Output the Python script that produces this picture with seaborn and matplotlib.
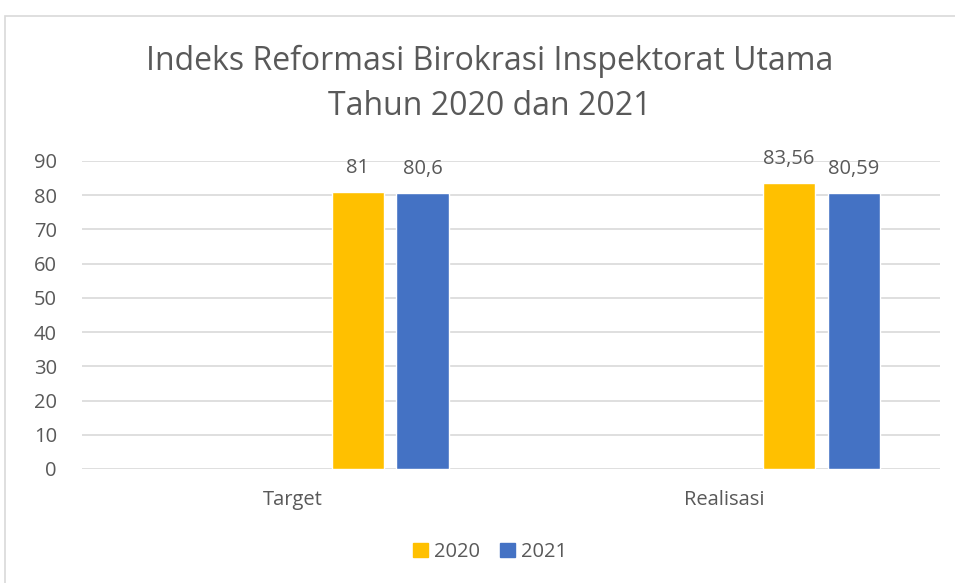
import pandas as pd
import matplotlib.pyplot as plt
import matplotlib.patches as mpatches
import seaborn as sns

# data
categories = ['Target', 'Realisasi']
years = ['2020', '2021']
values_2020 = [81, 83.56]
values_2021 = [80.6, 80.59]
labels_2020 = ['81', '83,56']
labels_2021 = ['80,6', '80,59']
yticks = [0, 10, 20, 30, 40, 50, 60, 70, 80, 90]

colors = {'2020': '#FFC000', '2021': '#4472C4'}
# excel chart keeps three empty series in front of the two real ones
empty = ['e1', 'e2', 'e3']

df = pd.DataFrame({
    'kategori': categories * 2,
    'tahun': ['2020'] * 2 + ['2021'] * 2,
    'nilai': values_2020 + values_2021,
})

sns.set_style('white')
plt.rcParams['font.family'] = ['Open Sans', 'DejaVu Sans']
txt = '#595959'
grid = '#D9D9D9'

fig = plt.figure(figsize=(9.55, 5.83), dpi=100)
ax = fig.add_axes([82/955, 1-469/583, (940-82)/955, (469-161)/583])

pal = {k: 'white' for k in empty}
pal.update(colors)
sns.barplot(data=df, x='kategori', y='nilai', hue='tahun', order=categories,
            hue_order=empty + years, palette=pal, width=0.75, gap=0.19,
            legend=False, ax=ax, saturation=1, err_kws={'linewidth': 0})

ax.set_xlim(-0.49, 1.5)
ax.set_ylim(0, 90)
ax.set_yticks(yticks)
ax.grid(axis='y', color=grid, linewidth=1.2)
ax.set_axisbelow(True)
for s in ax.spines.values():
    s.set_visible(False)
ax.tick_params(axis='y', length=0, pad=18, labelsize=14.5, labelcolor=txt)
ax.tick_params(axis='x', length=0, pad=15, labelsize=14.5, labelcolor=txt)
ax.set_xlabel('')
ax.set_ylabel('')

bars = [c for c in ax.containers if len(c) > 0]
real = bars[-2:]
ax.bar_label(real[0], labels=labels_2020, padding=10, fontsize=14.5, color=txt)
ax.bar_label(real[1], labels=labels_2021, padding=10, fontsize=14.5, color=txt)

fig.text(0.513, 1-84/583, 'Indeks Reformasi Birokrasi Inspektorat Utama\nTahun 2020 dan 2021',
         ha='center', va='center', fontsize=23, color=txt, linespacing=1.45)

handles = [mpatches.Patch(color=colors[y], label=y) for y in years]
fig.legend(handles=handles, loc='center', bbox_to_anchor=(0.513, 1-552/583), ncol=2,
           frameon=False, fontsize=14.5, labelcolor=txt, handlelength=0.75, handleheight=0.75,
           handletextpad=0.3, columnspacing=1.0)

fig.patches.append(mpatches.Rectangle((5/955, -0.05), 1.1, 1-16/583+0.05,
                                      transform=fig.transFigure, fill=False,
                                      edgecolor=grid, linewidth=1.2))

fig.savefig('out.png', dpi=100)
